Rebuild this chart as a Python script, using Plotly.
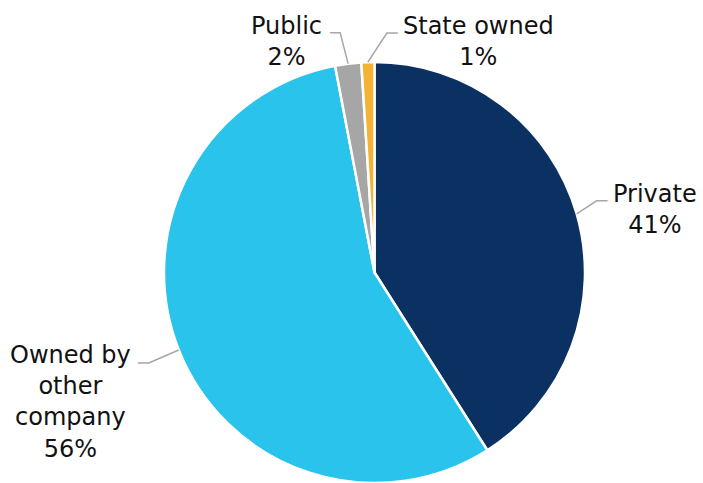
import math
import plotly.graph_objects as go

# Ownership breakdown (share of total, %)
categories = ["Private", "Owned by other company", "Public", "State owned"]
shares = [41, 56, 2, 1]
label_text = ["Private", "Owned by<br>other<br>company", "Public", "State owned"]
colors = ["#0a3161", "#29c3ec", "#a6a6a6", "#f5b335"]

W, H = 703, 483
# pie domain in pixels (left, right, top, bottom)
dom_px = (46, 703, 62, 483)
cx = (dom_px[0] + dom_px[1]) / 2
cy = (dom_px[2] + dom_px[3]) / 2
R = min(dom_px[1] - dom_px[0], dom_px[3] - dom_px[2]) / 2

# callout geometry: elbow offset from rim point, horizontal tail, label centre
callouts = {
    "Private": dict(elbow=(20, -13), tail=11, label=(655, 209)),
    "Owned by other company": dict(elbow=(-30, 13), tail=-11, label=(70, 402)),
    "Public": dict(elbow=(-8, -31), tail=-10, label=(286, 41)),
    "State owned": dict(elbow=(19, -29), tail=11, label=(478, 41)),
}


def px(x, y):
    return x / W, 1 - y / H


fig = go.Figure(
    go.Pie(
        labels=categories,
        values=shares,
        sort=False,
        direction="clockwise",
        rotation=0,
        marker=dict(colors=colors, line=dict(color="white", width=2.5)),
        textinfo="none",
        hoverinfo="label+percent",
        showlegend=False,
        domain=dict(x=[dom_px[0] / W, dom_px[1] / W], y=[1 - dom_px[3] / H, 1 - dom_px[2] / H]),
    )
)

total = sum(shares)
cum = 0
shapes = []
annotations = []
for cat, val, txt in zip(categories, shares, label_text):
    mid = (cum + val / 2) / total * 2 * math.pi
    cum += val
    rx = cx + R * math.sin(mid)
    ry = cy - R * math.cos(mid)
    c = callouts[cat]
    ex, ey = rx + c["elbow"][0], ry + c["elbow"][1]
    tx = ex + c["tail"]
    p0, p1, p2 = px(rx, ry), px(ex, ey), px(tx, ey)
    shapes.append(dict(
        type="path", xref="paper", yref="paper",
        path=f"M {p0[0]} {p0[1]} L {p1[0]} {p1[1]} L {p2[0]} {p2[1]}",
        line=dict(color="#a6a6a6", width=1.5),
    ))
    lx, ly = px(*c["label"])
    annotations.append(dict(
        x=lx, y=ly, xref="paper", yref="paper",
        text=f"{txt}<br>{val}%", showarrow=False,
        xanchor="center", yanchor="middle", align="center",
        font=dict(family="DejaVu Sans", size=24, color="#111111"),
    ))

fig.update_layout(
    width=W, height=H,
    margin=dict(l=0, r=0, t=0, b=0),
    paper_bgcolor="white", plot_bgcolor="white",
    shapes=shapes, annotations=annotations,
)

fig.write_html("out.html")
